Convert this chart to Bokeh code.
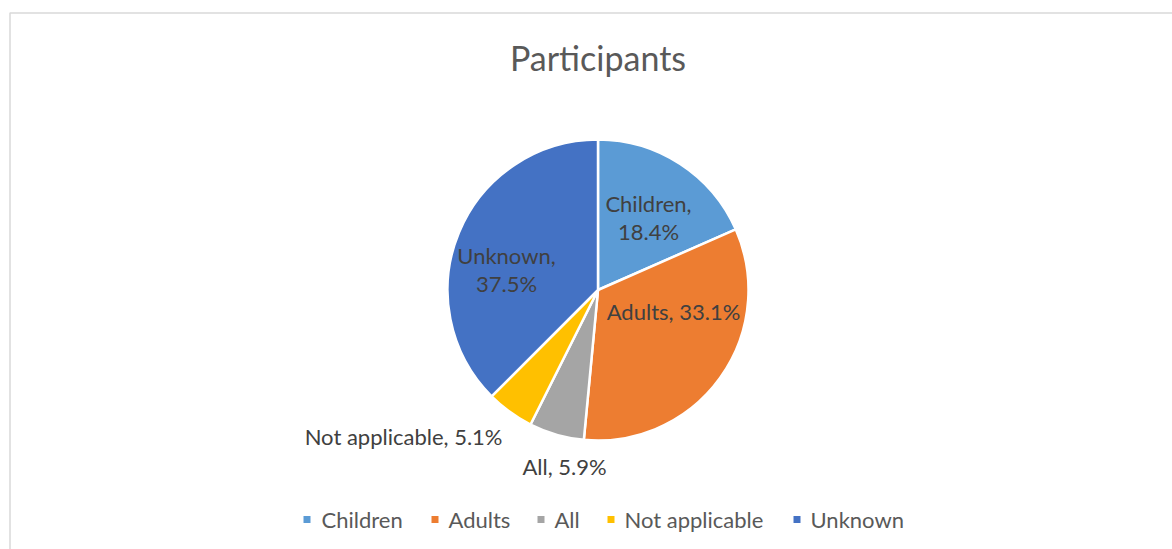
import math
from bokeh.plotting import figure
from bokeh.models import Range1d
from bokeh.core.properties import value
from bokeh.embed import file_html
from bokeh.resources import INLINE

# ---- data ----
categories = ["Children", "Adults", "All", "Not applicable", "Unknown"]
shares = [18.4, 33.1, 5.9, 5.1, 37.5]
colors = ["#5B9BD5", "#ED7D31", "#A5A5A5", "#FFC000", "#4472C4"]
title_text = "Participants"

# ---- layout (pixel coords, y from top) ----
W, H = 1172, 549
CX, CY, R = 597.5, 289.5, 150.5
FONT = "Lato"
LABEL_SIZE = "22px"

# label anchors: (x, y, align)
label_pos = [
    (648, 217, "center"),
    (673, 311, "center"),
    (564, 466, "center"),
    (502, 436, "right"),
    (506, 269, "center"),
]
label_multiline = [True, False, False, False, True]

legend_sq_x = [306.5, 434.5, 540.5, 610.5, 796.5]
legend_tx_x = [321, 448, 554, 624, 810]
legend_y = 519

def Y(y):
    return H - y

p = figure(width=W, height=H, x_range=Range1d(0, W), y_range=Range1d(0, H),
           output_backend="svg", toolbar_location=None,
           x_axis_type=None, y_axis_type=None, min_border=0,
           outline_line_color=None, background_fill_color="white")
p.grid.visible = False

# chart border
p.line([9.5, 9.5, W + 5], [Y(H + 5), Y(12.5), Y(12.5)], line_color="#D9D9D9", line_width=1.5)

# wedges
total = sum(shares)
cum = 0.0
for name, s, c in zip(categories, shares, colors):
    a0 = math.pi / 2 - 2 * math.pi * cum / total
    cum += s
    a1 = math.pi / 2 - 2 * math.pi * cum / total
    p.wedge(x=CX, y=Y(CY), radius=R, radius_units="screen", start_angle=a0, end_angle=a1,
            direction="clock", fill_color=c, line_color="white", line_width=2.5)

# data labels
for name, s, (lx, ly, al), ml in zip(categories, shares, label_pos, label_multiline):
    txt = f"{name},\n{s:.1f}%" if ml else f"{name}, {s:.1f}%"
    p.text(x=[lx], y=[Y(ly)], text=[txt], text_font=value(FONT), text_font_size=LABEL_SIZE,
           text_color="#404040", text_align=al, text_baseline="middle", text_line_height=1.05)

# title
p.text(x=[CX], y=[Y(57)], text=[title_text], text_font=value(FONT), text_font_size="34px",
       text_color="#595959", text_align="center", text_baseline="middle")

# legend
for name, c, sx, tx in zip(categories, colors, legend_sq_x, legend_tx_x):
    p.rect(x=[sx], y=[Y(legend_y)], width=7, height=7, width_units="screen", height_units="screen",
           fill_color=c, line_color=None)
    p.text(x=[tx], y=[Y(legend_y)], text=[name], text_font=value(FONT), text_font_size=LABEL_SIZE,
           text_color="#595959", text_align="left", text_baseline="middle")

open("out.html", "w").write(file_html(p, INLINE))
